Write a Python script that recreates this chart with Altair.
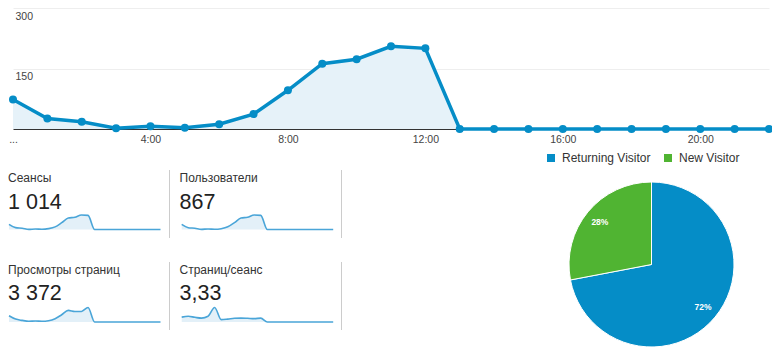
import altair as alt
import pandas as pd

# ---------------- data ----------------
hours = list(range(24))
x_tick_hours = [0, 4, 8, 12, 16, 20]
y_tick_values = [150, 300]

sessions = [73, 26, 18, 2, 7, 3, 12, 37, 96, 162, 173, 205, 200,
            0, 0, 0, 0, 0, 0, 0, 0, 0, 0, 0]
users = [62, 22, 15, 2, 6, 3, 10, 32, 82, 139, 148, 175, 171,
         0, 0, 0, 0, 0, 0, 0, 0, 0, 0, 0]
pageviews = [291, 135, 74, 34, 47, 34, 61, 155, 338, 541, 493, 493, 676,
             0, 0, 0, 0, 0, 0, 0, 0, 0, 0, 0]
pages_per_session = [4.4, 5.1, 4.2, 3.5, 5.1, 13.0, 2.1, 2.6, 3.3, 3.5, 3.3, 3.0, 3.5,
                     0, 0, 0, 0, 0, 0, 0, 0, 0, 0, 0]

metric_names = ["Сеансы", "Пользователи", "Просмотры страниц", "Страниц/сеанс"]
metric_totals = ["1 014", "867", "3 372", "3,33"]
metric_series = [sessions, users, pageviews, pages_per_session]

visitor_types = ["Returning Visitor", "New Visitor"]
visitor_share = [72, 28]

# ---------------- style ----------------
FONT = "Liberation Sans, Arial, sans-serif"
BLUE = "#058dc7"
GREEN = "#50b432"
AREA = "#e6f2f9"
SPARK_LINE = "#4aa5d8"
SPARK_AREA = "#e3f0f8"

W, H = 772, 352
MAIN_X = [13, 769]
MAIN_Y = [129, 8]

layers = []

# ---------------- main chart ----------------
main_df = pd.DataFrame({"hour": hours, "sessions": sessions})
xs = alt.Scale(domain=[0, 22], range=MAIN_X, nice=False, zero=False)
ys = alt.Scale(domain=[0, 300], range=MAIN_Y, nice=False)

x_axis = alt.Axis(
    values=x_tick_hours,
    labelExpr="datum.value == 0 ? '...' : datum.value + ':00'",
    title=None, grid=False, ticks=False, domainColor="#333333", domainWidth=1,
    labelColor="#444444", labelFontSize=10.5, labelFont=FONT, labelPadding=5,
    offset=-(H - MAIN_Y[0]), labelFlush=False, labelOverlap=False,
)
y_axis = alt.Axis(
    values=y_tick_values, title=None, orient="left", offset=-MAIN_X[0],
    domain=False, ticks=False, tickSize=0, labelAlign="left", labelBaseline="top",
    labelPadding=-2, labelOffset=3, grid=True, gridColor="#eeeeee",
    labelColor="#444444", labelFontSize=10.5, labelFont=FONT, labelFlush=False,
)

main_area = alt.Chart(main_df).mark_area(color=AREA, opacity=1).encode(
    x=alt.X("hour:Q", scale=xs, axis=x_axis),
    y=alt.Y("sessions:Q", scale=ys, axis=y_axis),
)
main_line = alt.Chart(main_df).mark_line(color=BLUE, strokeWidth=3.5).encode(
    x=alt.X("hour:Q", scale=xs, axis=None),
    y=alt.Y("sessions:Q", scale=ys, axis=None),
)
main_pts = alt.Chart(main_df).mark_circle(color=BLUE, size=64, opacity=1).encode(
    x=alt.X("hour:Q", scale=xs, axis=None),
    y=alt.Y("sessions:Q", scale=ys, axis=None),
)
layers += [main_area, main_line, main_pts]

# ---------------- metric cells ----------------
spark_rows = []
for name, series in zip(metric_names, metric_series):
    for h, v in zip(hours, series):
        spark_rows.append({"metric": name, "hour": h, "value": v})
spark_df = pd.DataFrame(spark_rows)
metrics_df = pd.DataFrame({"metric": metric_names, "total": metric_totals})

CELL_X = [8, 179.5]
SPARK_X = [9, 181.7]
SPARK_W = 151.5
LABEL_Y = [182, 273.5]
VALUE_Y = [208.5, 300]
SPARK_BASE = [229.5, 322]
SPARK_H = 14.5
SEP_X = [169.5, 341.5]
SEP_Y = [(170, 238), (262, 330)]

for i, name in enumerate(metric_names):
    col, row = i % 2, i // 2
    sx = alt.Scale(domain=[0, 23], range=[SPARK_X[col], SPARK_X[col] + SPARK_W],
                   nice=False, zero=False)
    sy = alt.Scale(range=[SPARK_BASE[row], SPARK_BASE[row] - SPARK_H],
                   nice=False, zero=True)
    base = alt.Chart(spark_df).transform_filter(alt.datum.metric == name)
    layers.append(base.mark_area(color=SPARK_AREA, opacity=1, interpolate="monotone").encode(
        x=alt.X("hour:Q", scale=sx, axis=None),
        y=alt.Y("value:Q", scale=sy, axis=None),
    ))
    layers.append(base.mark_line(color=SPARK_LINE, strokeWidth=1.6, interpolate="monotone").encode(
        x=alt.X("hour:Q", scale=sx, axis=None),
        y=alt.Y("value:Q", scale=sy, axis=None),
    ))
    mbase = alt.Chart(metrics_df).transform_filter(alt.datum.metric == name)
    layers.append(mbase.mark_text(align="left", baseline="alphabetic", fontSize=12,
                                  font=FONT, color="#333333").encode(
        x=alt.value(CELL_X[col]), y=alt.value(LABEL_Y[row]), text="metric:N"))
    layers.append(mbase.mark_text(align="left", baseline="alphabetic", fontSize=21.5,
                                  font=FONT, color="#222222").encode(
        x=alt.value(CELL_X[col]), y=alt.value(VALUE_Y[row]), text="total:N"))
    layers.append(mbase.mark_rule(color="#cccccc", strokeWidth=1).encode(
        x=alt.value(SEP_X[col]), y=alt.value(SEP_Y[row][0]), y2=alt.value(SEP_Y[row][1])))

# ---------------- pie ----------------
pie_df = pd.DataFrame({"type": visitor_types, "share": visitor_share})
PIE_CX, PIE_CY, PIE_R = 651.5, 264.5, 82.5

pie = alt.Chart(pie_df).mark_arc(radius=PIE_R, stroke="white", strokeWidth=1).encode(
    theta=alt.Theta("share:Q", stack=True),
    order=alt.Order("share:Q", sort="descending"),
    color=alt.Color("type:N", scale=alt.Scale(domain=visitor_types, range=[BLUE, GREEN]),
                    legend=alt.Legend(title=None, orient="none", legendX=545, legendY=152,
                                      direction="horizontal", symbolType="square",
                                      symbolSize=64, symbolStrokeWidth=0, symbolOpacity=1,
                                      labelFontSize=12, labelFont=FONT, labelColor="#333333",
                                      labelOffset=5, columnPadding=11, padding=0)),
    x=alt.value(PIE_CX), y=alt.value(PIE_CY),
)
pie_text = alt.Chart(pie_df).transform_calculate(
    label="datum.share + '%'"
).mark_text(radius=67, color="white", fontSize=8.5, fontWeight="bold", font=FONT).encode(
    theta=alt.Theta("share:Q", stack=True),
    order=alt.Order("share:Q", sort="descending"),
    text="label:N",
    x=alt.value(PIE_CX), y=alt.value(PIE_CY),
)
layers += [pie, pie_text]

chart = alt.layer(*layers).resolve_scale(
    x="independent", y="independent"
).properties(
    width=W, height=H, autosize=alt.AutoSizeParams(type="none"), padding=0,
    background="white",
).configure_view(stroke="transparent")

chart.save("out.html", embed_options={"renderer": "svg", "actions": False})
